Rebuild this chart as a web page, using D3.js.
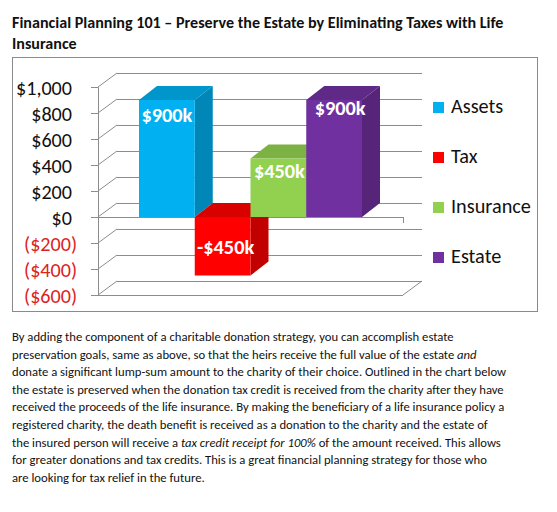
<!DOCTYPE html>
<html>
<head>
<meta charset="utf-8">
<script src="https://cdn.jsdelivr.net/npm/d3@7"></script>
<style>
  html, body { margin: 0; padding: 0; background: #fff; }
  svg { display: block; }
</style>
</head>
<body>
<svg id="chart" width="557" height="512"></svg>
<script>
// ---- data (values in $ thousands) ----
const seriesNames = ["Assets", "Tax", "Insurance", "Estate"];
const seriesValues = [900, -450, 450, 900];
const seriesColors = ["#00b0f0", "#ff0000", "#92d050", "#7030a0"];
const tickValues = [-600, -400, -200, 0, 200, 400, 600, 800, 1000];

const titleLines = [
  "Financial Planning 101 \u2013 Preserve the Estate by Eliminating Taxes with Life",
  "Insurance"
];

// each line is a list of [text, italic?] pieces
const paragraphLines = [
  [["By adding the component of a charitable donation strategy, you can accomplish estate", false]],
  [["preservation goals, same as above, so that the heirs receive the full value of the estate ", false], ["and", true]],
  [["donate a significant lump-sum amount to the charity of their choice. Outlined in the chart below", false]],
  [["the estate is preserved when the donation tax credit is received from the charity after they have", false]],
  [["received the proceeds of the life insurance. By making the beneficiary of a life insurance policy a", false]],
  [["registered charity, the death benefit is received as a donation to the charity and the estate of", false]],
  [["the insured person will receive a ", false], ["tax credit receipt for 100%", true], [" of the amount received. This allows", false]],
  [["for greater donations and tax credits. This is a great financial planning strategy for those who", false]],
  [["are looking for tax relief in the future.", false]]
];

const FONT = "Carlito, Calibri, Lato, 'Open Sans', sans-serif";
const svg = d3.select("#chart");

// pick a font size so that a sample string spans the wanted width
function fitSize(sample, weight, width) {
  const t = svg.append("text").attr("font-family", FONT).attr("font-weight", weight)
    .attr("font-size", 20).text(sample);
  const len = t.node().getComputedTextLength();
  t.remove();
  return 20 * width / len;
}

// shade a colour for the top / side faces of the 3d bars
function shade(c, k) {
  return d3.color(c).darker(k).formatHex();
}

// ---- title ----
const titleSize = fitSize(titleLines[0], "bold", 492);
svg.append("g").selectAll("text").data(titleLines).join("text")
  .attr("x", 12)
  .attr("y", (d, i) => 28 + i * 21)
  .attr("font-family", FONT).attr("font-weight", "bold")
  .attr("font-size", titleSize).attr("fill", "#111")
  .text(d => d);

// ---- chart frame ----
svg.append("rect")
  .attr("x", 12.5).attr("y", 57.5).attr("width", 525).attr("height", 254)
  .attr("fill", "#fff").attr("stroke", "#8a8a8a");

// ---- 3d plot geometry ----
const wallLeft = 98, wallRight = 403;
const DX = 19, DY = -14;     // depth of the walls
const BDX = 18, BDY = -14;   // depth of the bars

const y = d3.scaleLinear().domain([-600, 1000]).range([295, 87]);
const x = d3.scaleBand().domain(seriesNames).range([139, 362]).paddingInner(0).paddingOuter(0);

const grid = svg.append("g").attr("stroke", "#8c8c8c").attr("fill", "none").attr("stroke-width", 1);

// back wall gridlines
grid.selectAll("line.back").data(tickValues).join("line")
  .attr("class", "back")
  .attr("x1", wallLeft + DX).attr("x2", wallRight + DX)
  .attr("y1", d => Math.round(y(d) + DY) + 0.5).attr("y2", d => Math.round(y(d) + DY) + 0.5);

// side wall diagonals
grid.selectAll("line.side").data(tickValues).join("line")
  .attr("class", "side")
  .attr("x1", wallLeft).attr("y1", d => y(d))
  .attr("x2", wallLeft + DX).attr("y2", d => y(d) + DY);

// bottom front edge and right diagonal
grid.append("line")
  .attr("x1", wallLeft).attr("x2", wallRight)
  .attr("y1", y(-600) + 0.5).attr("y2", y(-600) + 0.5);
grid.append("line")
  .attr("x1", wallRight).attr("y1", y(-600))
  .attr("x2", wallRight + DX).attr("y2", y(-600) + DY);

// floor front edge at zero
grid.append("line")
  .attr("x1", wallLeft).attr("x2", wallRight)
  .attr("y1", Math.round(y(0)) + 0.5).attr("y2", Math.round(y(0)) + 0.5);
grid.append("line")
  .attr("x1", wallRight + 0.5).attr("x2", wallRight + 0.5)
  .attr("y1", y(0)).attr("y2", y(0) + 6);

// value axis (front edge of the side wall)
const fmtNum = d3.format(",");
const axisSize = fitSize("$1,000", "normal", 56);
const axis = d3.axisLeft(y)
  .tickValues(tickValues)
  .tickSize(7)
  .tickPadding(19)
  .tickFormat(v => v < 0 ? "($" + fmtNum(-v) + ")" : "$" + fmtNum(v));

const axisG = svg.append("g")
  .attr("transform", `translate(${wallLeft},0)`)
  .call(axis);
axisG.select(".domain").attr("stroke", "#8c8c8c");
axisG.selectAll(".tick line").attr("stroke", "#8c8c8c");
axisG.selectAll(".tick text")
  .attr("font-family", FONT)
  .attr("font-size", axisSize)
  .attr("dy", "0.36em")
  .attr("fill", d => d < 0 ? "#dd2222" : "#111")
  .attr("x", d => d < 0 ? -21 : -26);

// ---- bars ----
const bars = seriesNames.map((name, i) => ({
  name, value: seriesValues[i], color: seriesColors[i]
}));

const barG = svg.append("g");
bars.forEach(b => {
  const x0 = x(b.name), x1 = x0 + x.bandwidth();
  const yTop = y(Math.max(0, b.value)), yBot = y(Math.min(0, b.value));
  const g = barG.append("g");
  // top face
  g.append("path")
    .attr("d", d3.line()([[x0, yTop], [x1, yTop], [x1 + BDX, yTop + BDY], [x0 + BDX, yTop + BDY]]))
    .attr("fill", shade(b.color, 0.45));
  // side face
  g.append("path")
    .attr("d", d3.line()([[x1, yTop], [x1 + BDX, yTop + BDY], [x1 + BDX, yBot + BDY], [x1, yBot]]))
    .attr("fill", shade(b.color, 0.75));
  // front face
  g.append("rect")
    .attr("x", x0).attr("y", yTop)
    .attr("width", x.bandwidth()).attr("height", yBot - yTop)
    .attr("fill", b.color);
});

// data labels, small nudges copy the placement in the original
const labelNudge = { Assets: [0, 22], Tax: [3, -22], Insurance: [1, 19], Estate: [6, 15] };
const fmtLabel = v => (v < 0 ? "-" : "") + "$" + Math.abs(v) + "k";
const labelSize = fitSize("$900k", "bold", 51);
svg.append("g").selectAll("text").data(bars).join("text")
  .attr("x", d => x(d.name) + x.bandwidth() / 2 + labelNudge[d.name][0])
  .attr("y", d => (d.value >= 0 ? y(d.value) : y(d.value)) + labelNudge[d.name][1])
  .attr("text-anchor", "middle")
  .attr("font-family", FONT).attr("font-weight", "bold")
  .attr("font-size", labelSize).attr("fill", "#fff")
  .text(d => fmtLabel(d.value));

// ---- legend ----
const legendSize = fitSize("Insurance", "normal", 80);
const legend = svg.append("g").attr("transform", "translate(433,102)");
const item = legend.selectAll("g").data(bars).join("g")
  .attr("transform", (d, i) => `translate(0,${i * 50})`);
item.append("rect").attr("width", 11).attr("height", 11).attr("fill", d => d.color);
item.append("text")
  .attr("x", 18).attr("y", 11)
  .attr("font-family", FONT).attr("font-size", legendSize).attr("fill", "#111")
  .text(d => d.name);

// ---- paragraph ----
const paraSize = fitSize(paragraphLines[0][0][0], "normal", 442);
const para = svg.append("g");
paragraphLines.forEach((pieces, i) => {
  const t = para.append("text")
    .attr("x", 12).attr("y", 341 + i * 17.6)
    .attr("font-family", FONT).attr("font-size", paraSize).attr("fill", "#111");
  pieces.forEach(([s, it]) => {
    t.append("tspan").attr("font-style", it ? "italic" : "normal").text(s);
  });
});
</script>
</body>
</html>
